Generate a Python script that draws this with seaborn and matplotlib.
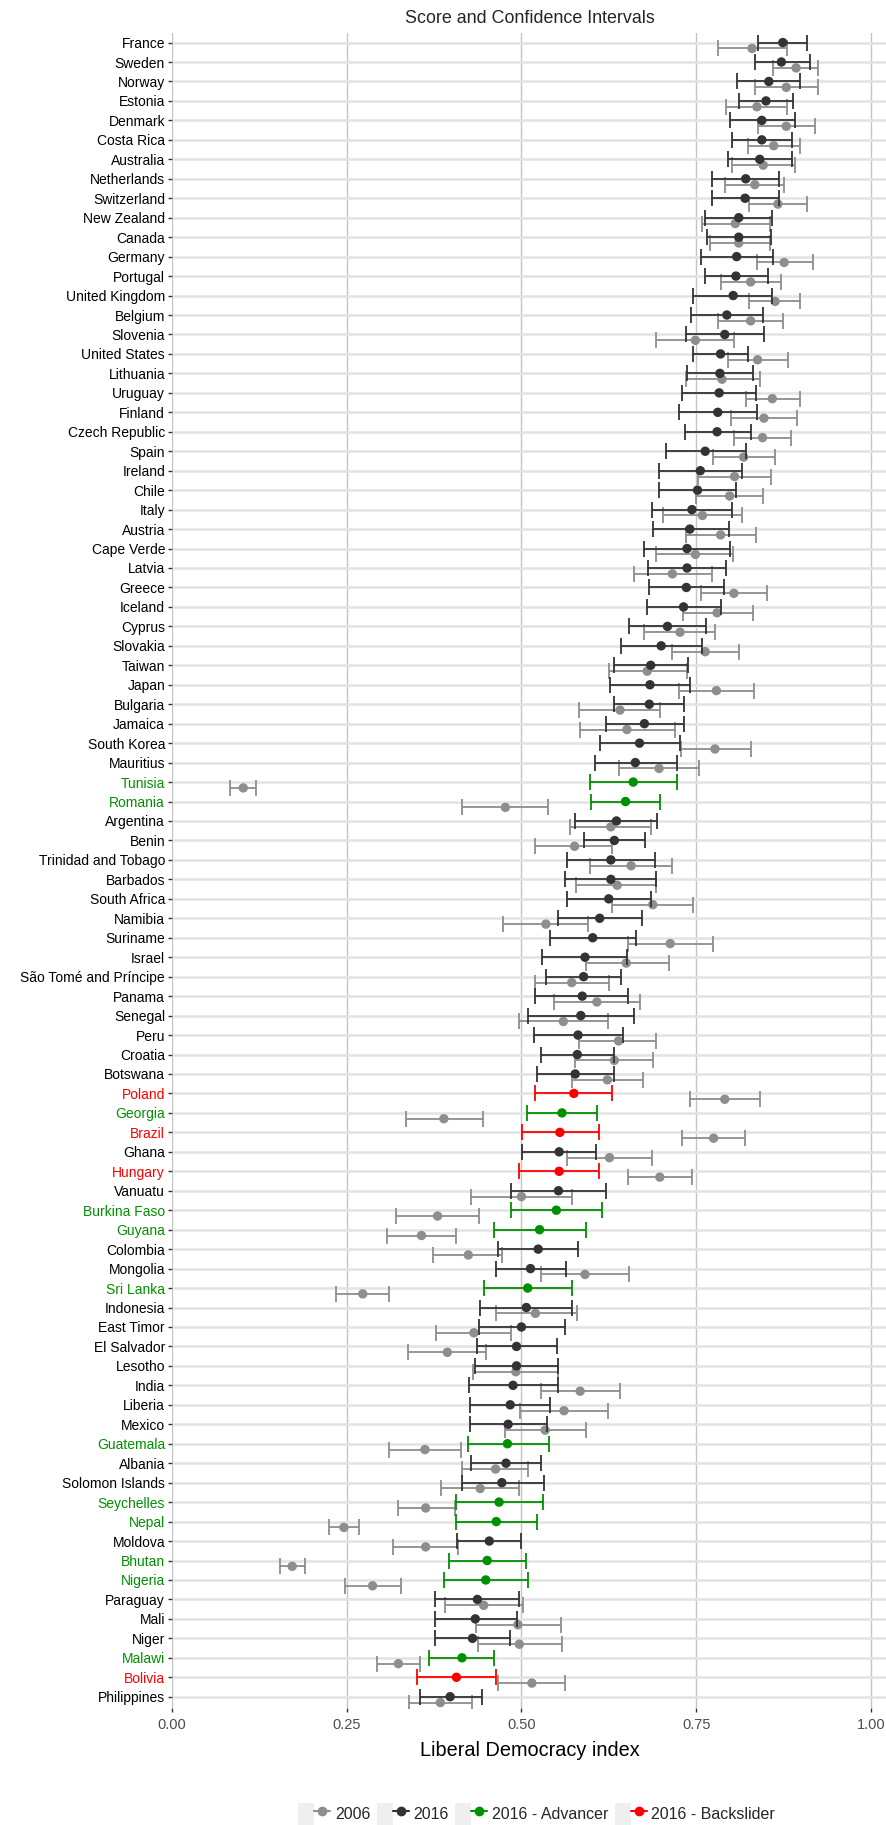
import numpy as np
import pandas as pd
import matplotlib
matplotlib.use('Agg')
import matplotlib.pyplot as plt
import seaborn as sns
from matplotlib.lines import Line2D
from matplotlib.patches import Rectangle
from matplotlib.legend_handler import HandlerTuple

# --- data ---
countries = [
    'France', 'Sweden', 'Norway', 'Estonia', 'Denmark', 'Costa Rica', 'Australia',
    'Netherlands', 'Switzerland', 'New Zealand', 'Canada', 'Germany', 'Portugal',
    'United Kingdom', 'Belgium', 'Slovenia', 'United States', 'Lithuania', 'Uruguay',
    'Finland', 'Czech Republic', 'Spain', 'Ireland', 'Chile', 'Italy', 'Austria',
    'Cape Verde', 'Latvia', 'Greece', 'Iceland', 'Cyprus', 'Slovakia', 'Taiwan',
    'Japan', 'Bulgaria', 'Jamaica', 'South Korea', 'Mauritius', 'Tunisia', 'Romania',
    'Argentina', 'Benin', 'Trinidad and Tobago', 'Barbados', 'South Africa', 'Namibia',
    'Suriname', 'Israel', 'São Tomé and Príncipe', 'Panama', 'Senegal', 'Peru',
    'Croatia', 'Botswana', 'Poland', 'Georgia', 'Brazil', 'Ghana', 'Hungary',
    'Vanuatu', 'Burkina Faso', 'Guyana', 'Colombia', 'Mongolia', 'Sri Lanka',
    'Indonesia', 'East Timor', 'El Salvador', 'Lesotho', 'India', 'Liberia', 'Mexico',
    'Guatemala', 'Albania', 'Solomon Islands', 'Seychelles', 'Nepal', 'Moldova',
    'Bhutan', 'Nigeria', 'Paraguay', 'Mali', 'Niger', 'Malawi', 'Bolivia', 'Philippines',
]

advancers = ['Tunisia', 'Romania', 'Georgia', 'Burkina Faso', 'Guyana', 'Sri Lanka',
             'Guatemala', 'Seychelles', 'Nepal', 'Bhutan', 'Nigeria', 'Malawi']
backsliders = ['Poland', 'Brazil', 'Hungary', 'Bolivia']

score_2016 = [
    0.874, 0.872, 0.854, 0.850, 0.844, 0.844, 0.841, 0.821, 0.820, 0.811, 0.811, 0.808,
    0.807, 0.803, 0.794, 0.791, 0.785, 0.784, 0.783, 0.781, 0.780, 0.763, 0.756, 0.752,
    0.744, 0.741, 0.737, 0.737, 0.736, 0.732, 0.709, 0.700, 0.685, 0.684, 0.683, 0.676,
    0.669, 0.663, 0.660, 0.649, 0.636, 0.633, 0.628, 0.628, 0.625, 0.612, 0.602, 0.591,
    0.589, 0.587, 0.585, 0.581, 0.580, 0.577, 0.575, 0.558, 0.555, 0.554, 0.554, 0.553,
    0.550, 0.526, 0.524, 0.513, 0.509, 0.507, 0.500, 0.493, 0.493, 0.488, 0.484, 0.481,
    0.480, 0.478, 0.472, 0.468, 0.464, 0.454, 0.451, 0.449, 0.437, 0.434, 0.430, 0.415,
    0.407, 0.398,
]
low_2016 = [
    0.839, 0.834, 0.809, 0.811, 0.798, 0.802, 0.796, 0.772, 0.772, 0.763, 0.765, 0.757,
    0.763, 0.746, 0.742, 0.735, 0.746, 0.737, 0.730, 0.726, 0.734, 0.707, 0.697, 0.697,
    0.687, 0.688, 0.676, 0.681, 0.682, 0.680, 0.654, 0.642, 0.633, 0.627, 0.633, 0.621,
    0.612, 0.605, 0.598, 0.599, 0.576, 0.589, 0.565, 0.563, 0.565, 0.552, 0.541, 0.530,
    0.535, 0.520, 0.510, 0.518, 0.528, 0.522, 0.520, 0.508, 0.501, 0.501, 0.496, 0.485,
    0.485, 0.461, 0.467, 0.463, 0.446, 0.441, 0.439, 0.437, 0.434, 0.425, 0.427, 0.427,
    0.423, 0.428, 0.415, 0.407, 0.407, 0.408, 0.397, 0.389, 0.376, 0.376, 0.376, 0.368,
    0.351, 0.355,
]
high_2016 = [
    0.909, 0.913, 0.899, 0.889, 0.892, 0.887, 0.887, 0.869, 0.868, 0.859, 0.857, 0.860,
    0.853, 0.859, 0.846, 0.847, 0.824, 0.832, 0.836, 0.837, 0.828, 0.822, 0.815, 0.807,
    0.802, 0.797, 0.799, 0.793, 0.790, 0.785, 0.764, 0.759, 0.738, 0.741, 0.733, 0.733,
    0.727, 0.723, 0.722, 0.699, 0.694, 0.677, 0.691, 0.693, 0.686, 0.672, 0.664, 0.651,
    0.642, 0.653, 0.661, 0.646, 0.632, 0.633, 0.629, 0.608, 0.611, 0.607, 0.611, 0.621,
    0.616, 0.592, 0.581, 0.564, 0.573, 0.572, 0.562, 0.551, 0.553, 0.552, 0.541, 0.537,
    0.540, 0.528, 0.532, 0.531, 0.522, 0.500, 0.506, 0.510, 0.497, 0.493, 0.484, 0.461,
    0.463, 0.443,
]
score_2006 = [
    0.830, 0.893, 0.879, 0.837, 0.879, 0.861, 0.846, 0.834, 0.867, 0.806, 0.811, 0.876,
    0.828, 0.863, 0.828, 0.749, 0.838, 0.787, 0.859, 0.847, 0.845, 0.818, 0.805, 0.798,
    0.759, 0.785, 0.749, 0.716, 0.804, 0.780, 0.727, 0.763, 0.680, 0.779, 0.641, 0.651,
    0.777, 0.697, 0.102, 0.477, 0.628, 0.576, 0.657, 0.637, 0.688, 0.535, 0.713, 0.650,
    0.572, 0.608, 0.560, 0.639, 0.633, 0.623, 0.791, 0.389, 0.775, 0.626, 0.698, 0.500,
    0.380, 0.357, 0.424, 0.591, 0.273, 0.520, 0.432, 0.394, 0.492, 0.584, 0.561, 0.534,
    0.362, 0.463, 0.441, 0.363, 0.246, 0.363, 0.172, 0.287, 0.446, 0.495, 0.497, 0.324,
    0.515, 0.384,
]
low_2006 = [
    0.781, 0.860, 0.834, 0.793, 0.838, 0.824, 0.802, 0.792, 0.825, 0.758, 0.770, 0.837,
    0.785, 0.826, 0.781, 0.693, 0.795, 0.735, 0.821, 0.800, 0.804, 0.774, 0.753, 0.750,
    0.703, 0.735, 0.693, 0.661, 0.757, 0.731, 0.676, 0.716, 0.625, 0.725, 0.583, 0.584,
    0.728, 0.640, 0.083, 0.415, 0.569, 0.520, 0.598, 0.578, 0.630, 0.474, 0.653, 0.592,
    0.520, 0.546, 0.497, 0.583, 0.577, 0.572, 0.741, 0.335, 0.730, 0.565, 0.652, 0.428,
    0.321, 0.308, 0.374, 0.528, 0.235, 0.463, 0.378, 0.337, 0.431, 0.528, 0.498, 0.477,
    0.311, 0.415, 0.385, 0.323, 0.224, 0.316, 0.154, 0.247, 0.391, 0.435, 0.438, 0.293,
    0.466, 0.339,
]
high_2006 = [
    0.880, 0.925, 0.925, 0.880, 0.920, 0.899, 0.891, 0.876, 0.908, 0.855, 0.855, 0.917,
    0.872, 0.899, 0.875, 0.804, 0.882, 0.841, 0.898, 0.894, 0.886, 0.863, 0.857, 0.845,
    0.815, 0.836, 0.803, 0.772, 0.852, 0.832, 0.777, 0.811, 0.737, 0.833, 0.699, 0.720,
    0.829, 0.754, 0.120, 0.538, 0.686, 0.630, 0.715, 0.693, 0.745, 0.595, 0.774, 0.711,
    0.626, 0.670, 0.624, 0.693, 0.688, 0.674, 0.841, 0.445, 0.820, 0.687, 0.744, 0.573,
    0.439, 0.406, 0.472, 0.654, 0.311, 0.579, 0.485, 0.450, 0.553, 0.641, 0.624, 0.592,
    0.413, 0.510, 0.496, 0.405, 0.267, 0.409, 0.190, 0.328, 0.502, 0.556, 0.558, 0.355,
    0.563, 0.429,
]

groups = ['2006', '2016', '2016 - Advancer', '2016 - Backslider']
palette = {'2006': '#8E8E8E', '2016': '#333333',
           '2016 - Advancer': '#009000', '2016 - Backslider': '#FF0000'}
label_colors = {'2016': 'black', '2016 - Advancer': '#009000', '2016 - Backslider': '#FF0000'}

status = []
for c in countries:
    if c in advancers:
        status.append('2016 - Advancer')
    elif c in backsliders:
        status.append('2016 - Backslider')
    else:
        status.append('2016')

rows = np.arange(len(countries))
df16 = pd.DataFrame({'country': countries, 'group': status, 'value': score_2016,
                     'lo': low_2016, 'hi': high_2016, 'y': rows})
df06 = pd.DataFrame({'country': countries, 'group': '2006', 'value': score_2006,
                     'lo': low_2006, 'hi': high_2006, 'y': rows + 0.3})
df = pd.concat([df06, df16], ignore_index=True)

# --- style ---
sns.set_theme(style='white')
plt.rcParams['font.family'] = ['Liberation Sans', 'DejaVu Sans']

fig = plt.figure(figsize=(8.87, 18.25), dpi=100)
ax = fig.add_axes([0.1939, 0.0641, 0.806, 0.9177])

# error bars, 2006 first so 2016 sits on top
for g in groups:
    sub = df[df['group'] == g]
    ax.errorbar(sub['value'], sub['y'],
                xerr=[sub['value'] - sub['lo'], sub['hi'] - sub['value']],
                fmt='none', ecolor=palette[g], elinewidth=1.3, capsize=6,
                capthick=1.3, zorder=2 if g == '2006' else 3)

sns.scatterplot(data=df[df['group'] == '2006'], x='value', y='y', color=palette['2006'],
                s=46, edgecolor='none', ax=ax, legend=False, zorder=2.5)
sns.scatterplot(data=df16, x='value', y='y', hue='group', palette=palette,
                s=46, edgecolor='none', ax=ax, legend=False, zorder=4)

ax.set_xlim(0, 1.023)
ax.set_ylim(85.58, -0.48)

ax.set_yticks(rows)
ax.set_yticklabels(countries, fontsize=10)
for lab, st in zip(ax.get_yticklabels(), status):
    lab.set_color(label_colors[st])

ax.set_xticks([0, 0.25, 0.5, 0.75, 1.0])
ax.set_xticklabels(['0.00', '0.25', '0.50', '0.75', '1.00'], fontsize=10.5, color='#4D4D4D')

ax.tick_params(axis='y', length=3, width=1, color='#333333', pad=2, left=True)
ax.tick_params(axis='x', length=3, width=1, color='#333333', pad=4, bottom=True)

ax.xaxis.grid(True, color='#C4C4C4', lw=1.0)
ax.yaxis.grid(True, color='#E3E3E3', lw=1.8)
ax.set_axisbelow(True)
for sp in ax.spines.values():
    sp.set_visible(False)

ax.set_ylabel('')
ax.set_xlabel('Liberal Democracy index', fontsize=14.3, labelpad=7, color='black')
ax.set_title('Score and Confidence Intervals', fontsize=12.9, pad=7)

# legend with grey key backgrounds
handles = []
for g in groups:
    bg = Rectangle((0, 0), 1, 1, facecolor='#EFEFEF', edgecolor='none')
    ln = Line2D([], [], color=palette[g], marker='o', markersize=6, lw=1.5)
    handles.append((bg, ln))
fig.legend(handles, groups, handler_map={tuple: HandlerTuple(ndivide=None)},
           loc='lower center', bbox_to_anchor=(0.605, 0.0), ncol=4, frameon=False,
           fontsize=11.5, handlelength=2.0, handleheight=1.7, handletextpad=0.3,
           columnspacing=0.4, borderpad=0.0, borderaxespad=0.0)

fig.savefig('out.png', dpi=100)
